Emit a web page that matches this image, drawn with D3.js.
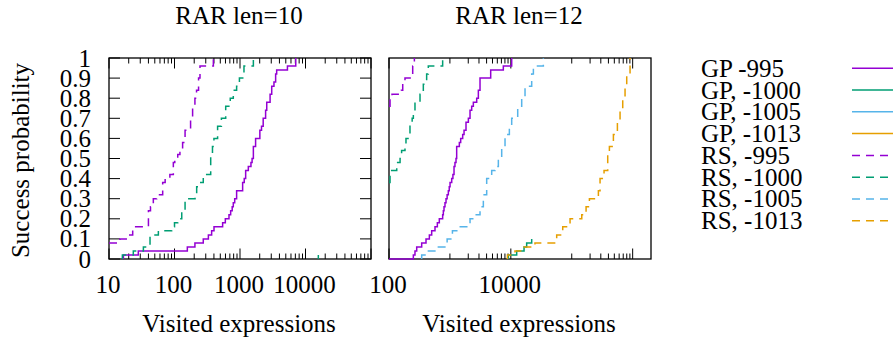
<!DOCTYPE html>
<html><head><meta charset="utf-8">
<script src="https://cdn.jsdelivr.net/npm/d3@7"></script>
<style>
body{margin:0;background:#fff;}
svg{display:block;}
text{font-family:"Liberation Serif","Times New Roman",serif;fill:#000;}
</style>
</head><body>
<svg id="chart" width="895" height="343"></svg>
<script>
// ---------- data ----------
const panelTitles = ["RAR len=10", "RAR len=12"];
const legendLabels = ["GP -995", "GP, -1000", "GP, -1005", "GP, -1013", "RS, -995", "RS, -1000", "RS, -1005", "RS, -1013"];
const seriesColors = ["#9400d3", "#009e73", "#56b4e9", "#e69f00"];
const yTickValues = [0, 0.1, 0.2, 0.3, 0.4, 0.5, 0.6, 0.7, 0.8, 0.9, 1];
const yTickLabels = ["0", "0.1", "0.2", "0.3", "0.4", "0.5", "0.6", "0.7", "0.8", "0.9", "1"];
const xTickValues10 = [10, 100, 1000, 10000];
const xTickLabels10 = ["10", "100", "1000", "10000"];
const xTickValues12 = [100, 10000];
const xTickLabels12 = ["100", "10000"];
const xAxisTitle = "Visited expressions";
const yAxisTitle = "Success probability";

// RAR len=10  : [visited expressions, success probability]
const len10_GP995 = [[16.6,0],[16.6,0.02],[28,0.04],[157,0.06],[205,0.08],[275,0.10],[329,0.12],[369,0.14],[401,0.16],[543,0.18],[597,0.20],[679,0.22],[720,0.24],[760,0.26],[790,0.28],[830,0.30],[888,0.34],[1097,0.38],[1160,0.40],[1220,0.44],[1340,0.46],[1470,0.48],[1530,0.50],[1600,0.56],[1730,0.60],[2010,0.64],[2130,0.66],[2260,0.70],[2460,0.74],[2560,0.78],[2880,0.82],[3050,0.86],[3300,0.88],[3500,0.92],[3630,0.94],[5300,0.96],[7100,1.0]];
const len10_GP1000 = [[15700,0],[15700,0.02]];
const len10_GP1005 = [];
const len10_GP1013 = [];
const len10_RS995 = [[10,0.08],[14.7,0.10],[19.7,0.12],[23,0.16],[40,0.24],[43,0.26],[47.5,0.30],[53.5,0.32],[66,0.38],[72,0.40],[85,0.42],[96,0.48],[101,0.50],[112,0.52],[121,0.54],[133,0.58],[145,0.64],[176,0.70],[189,0.76],[205,0.80],[217,0.84],[233,0.90],[245,0.96],[392,1.0]];
const len10_RS1000 = [[16,0],[16,0.02],[23.5,0.04],[33.5,0.06],[42.3,0.12],[56.7,0.14],[90.5,0.16],[100,0.18],[112,0.20],[129,0.24],[145,0.30],[206,0.32],[218,0.36],[240,0.38],[275,0.42],[357,0.52],[380,0.56],[400,0.60],[455,0.66],[520,0.70],[605,0.76],[710,0.80],[790,0.84],[888,0.86],[980,0.90],[1150,0.96],[1600,1.0]];
const len10_RS1005 = [];
const len10_RS1013 = [];

// RAR len=12
const len12_GP995 = [[100,0],[251,0.02],[267,0.04],[285,0.06],[344,0.08],[405,0.10],[460,0.12],[502,0.14],[569,0.16],[622,0.18],[670,0.20],[760,0.22],[780,0.24],[800,0.26],[830,0.28],[863,0.30],[900,0.32],[942,0.34],[975,0.36],[1005,0.38],[1070,0.40],[1120,0.42],[1168,0.46],[1210,0.48],[1259,0.50],[1291,0.56],[1428,0.58],[1502,0.60],[1620,0.62],[1706,0.64],[1837,0.68],[2009,0.70],[2139,0.74],[2277,0.76],[2425,0.78],[2752,0.80],[2930,0.84],[3120,0.90],[4670,0.94],[7530,0.96],[10330,1.0]];
const len12_GP1000 = [[9100,0],[9100,0.02],[12480,0.04],[16480,0.06],[18200,0.08],[22000,0.10]];
const len12_GP1005 = [];
const len12_GP1013 = [];
const len12_RS995 = [[100,0.76],[104,0.80],[112,0.82],[160,0.84],[168,0.88],[183,0.90],[245,0.96],[261,1.0]];
const len12_RS1000 = [[100,0.38],[104,0.44],[134,0.48],[152,0.50],[161,0.54],[183,0.56],[190,0.60],[221,0.66],[240,0.70],[251,0.72],[267,0.78],[323,0.82],[366,0.87],[415,0.92],[442,0.96],[760,1.0]];
const len12_RS1005 = [[344,0],[344,0.02],[390,0.04],[600,0.06],[900,0.10],[1100,0.14],[1375,0.16],[2139,0.20],[2583,0.22],[3120,0.26],[3538,0.32],[4015,0.40],[4850,0.44],[5505,0.46],[6240,0.50],[7080,0.56],[8030,0.62],[9460,0.66],[10330,0.70],[12970,0.76],[15080,0.80],[17100,0.86],[22000,0.92],[23450,0.96],[34200,1.0]];
const len12_RS1013 = [[8800,0],[8800,0.02],[11700,0.04],[16500,0.06],[24900,0.08],[56600,0.12],[71100,0.16],[93800,0.20],[146000,0.22],[171900,0.26],[195000,0.30],[273800,0.34],[291500,0.40],[339000,0.44],[389600,0.52],[415000,0.56],[482800,0.62],[561600,0.68],[621000,0.74],[687000,0.80],[750000,0.86],[799000,0.92],[906000,1.0]];

// ---------- layout ----------
const FONT = 25;
const plotTop = 58, plotBottom = 259;
const svg = d3.select("#chart");
const y = d3.scaleLinear().domain([0, 1]).range([plotBottom, plotTop]);

const panels = [
  { title: panelTitles[0], x: d3.scaleLog().domain([10, 1e5]).range([109, 371]),
    ticks: xTickValues10, labels: xTickLabels10, yLabels: true,
    major: [10, 100, 1000, 10000, 100000],
    minor: d3.range(1, 5).flatMap(e => d3.range(2, 10).map(k => k * Math.pow(10, e))),
    series: [len10_GP995, len10_GP1000, len10_GP1005, len10_GP1013, len10_RS995, len10_RS1000, len10_RS1005, len10_RS1013] },
  { title: panelTitles[1], x: d3.scaleLog().domain([100, 2e6]).range([389, 651]),
    ticks: xTickValues12, labels: xTickLabels12, yLabels: false,
    major: [100, 10000, 1000000],
    minor: [3, 5].flatMap(e => d3.range(1, 10).map(k => k * Math.pow(10, e))),
    series: [len12_GP995, len12_GP1000, len12_GP1005, len12_GP1013, len12_RS995, len12_RS1000, len12_RS1005, len12_RS1013] }
];

panels.forEach((p, pi) => {
  const [x0, x1] = p.x.range();
  const g = svg.append("g");
  const tg = g.append("g").attr("stroke", "#000").attr("stroke-width", 1);
  p.major.forEach(v => {
    const xx = p.x(v);
    if (xx < x0 - 0.5 || xx > x1 + 0.5) return;
    tg.append("line").attr("x1", xx).attr("x2", xx).attr("y1", plotBottom).attr("y2", plotBottom - 10.5);
    tg.append("line").attr("x1", xx).attr("x2", xx).attr("y1", plotTop).attr("y2", plotTop + 10.5);
  });
  p.minor.forEach(v => {
    const xx = p.x(v);
    if (xx < x0 || xx > x1) return;
    tg.append("line").attr("x1", xx).attr("x2", xx).attr("y1", plotBottom).attr("y2", plotBottom - 5.5);
    tg.append("line").attr("x1", xx).attr("x2", xx).attr("y1", plotTop).attr("y2", plotTop + 5.5);
  });
  if (p.yLabels) {
    yTickValues.forEach(v => {
      tg.append("line").attr("x1", x0).attr("x2", x0 + 11).attr("y1", y(v)).attr("y2", y(v));
      tg.append("line").attr("x1", x1).attr("x2", x1 - 11).attr("y1", y(v)).attr("y2", y(v));
    });
    yTickValues.forEach((v, i) => {
      g.append("text").attr("x", 91).attr("y", y(v) + 8.5).attr("text-anchor", "end")
        .attr("font-size", FONT).text(yTickLabels[i]);
    });
    g.append("text").attr("transform", `translate(29,${(plotTop + plotBottom) / 2 + 2}) rotate(-90)`)
      .attr("text-anchor", "middle").attr("font-size", FONT).text(yAxisTitle);
  }
  g.append("rect").attr("x", x0).attr("y", plotTop).attr("width", x1 - x0).attr("height", plotBottom - plotTop)
    .attr("fill", "none").attr("stroke", "#000").attr("stroke-width", 1.3);
  p.ticks.forEach((v, i) => {
    g.append("text").attr("x", p.x(v) - 1).attr("y", 293).attr("text-anchor", "middle")
      .attr("font-size", FONT).text(p.labels[i]);
  });
  g.append("text").attr("x", (x0 + x1) / 2 - 1).attr("y", 24).attr("text-anchor", "middle")
    .attr("font-size", FONT).text(p.title);
  g.append("text").attr("x", (x0 + x1) / 2 - 1).attr("y", 332).attr("text-anchor", "middle")
    .attr("font-size", FONT).text(xAxisTitle);
  const cid = "clip" + pi;
  svg.append("clipPath").attr("id", cid).append("rect")
    .attr("x", x0 - 2).attr("y", plotTop - 2).attr("width", x1 - x0 + 4).attr("height", plotBottom - plotTop + 4);
  const line = d3.line().x(d => p.x(d[0])).y(d => y(d[1])).curve(d3.curveStepAfter);
  const lg = g.append("g").attr("clip-path", `url(#${cid})`);
  p.series.forEach((data, si) => {
    if (!data.length) return;
    lg.append("path").attr("d", line(data)).attr("fill", "none")
      .attr("stroke", seriesColors[si % 4]).attr("stroke-width", 1.5)
      .attr("stroke-dasharray", si >= 4 ? "8 6" : null);
  });
});

const lgd = svg.append("g");
legendLabels.forEach((lab, i) => {
  const yy = 68.3 + i * 21.77;
  lgd.append("text").attr("x", 701).attr("y", yy + 8.5).attr("font-size", FONT).text(lab);
  lgd.append("line").attr("x1", 852).attr("x2", 893).attr("y1", yy).attr("y2", yy)
    .attr("stroke", seriesColors[i % 4]).attr("stroke-width", 1.5)
    .attr("stroke-dasharray", i >= 4 ? "8 6" : null);
});
</script>
</body></html>
